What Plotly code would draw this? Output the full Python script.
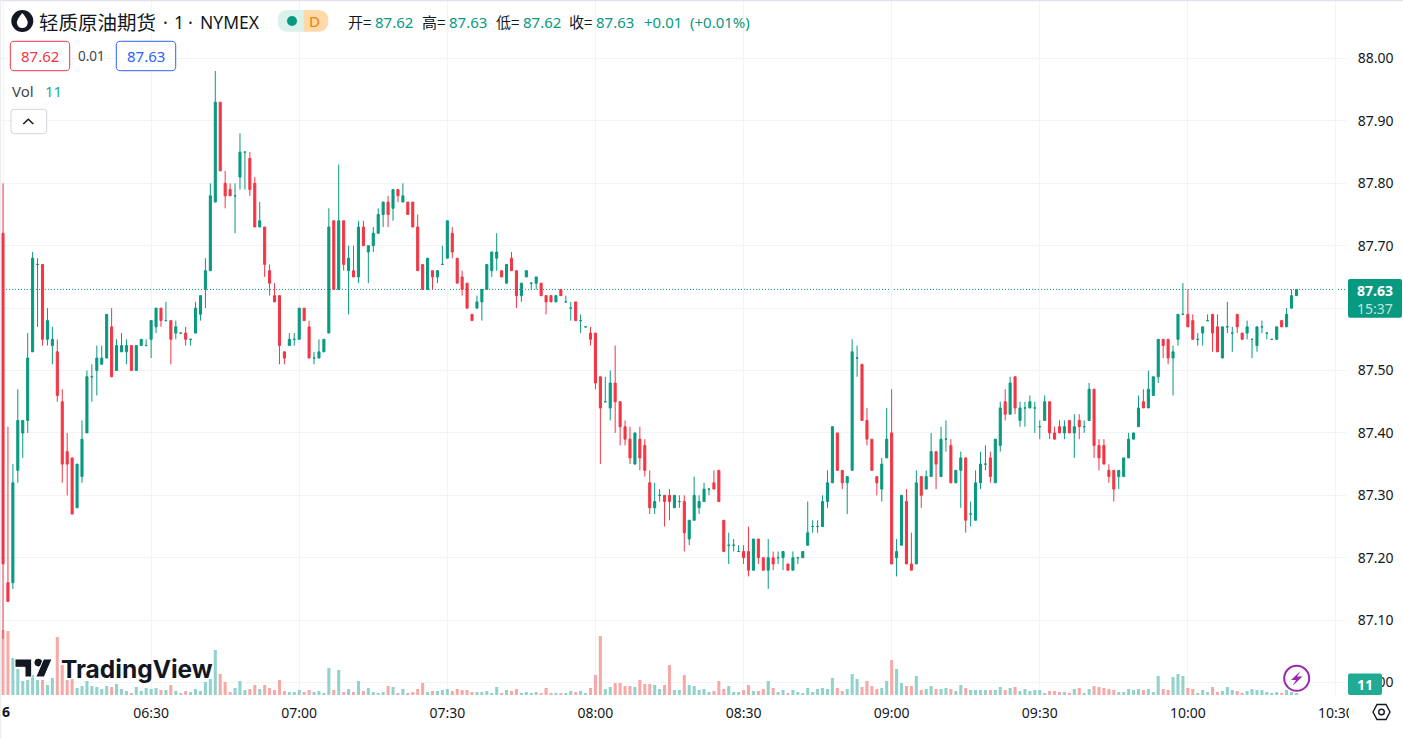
import plotly.graph_objects as go
from datetime import datetime, timedelta
import re

# Prices are hundredths of a dollar above BASE
BASE = 87.0
START = datetime(2024, 3, 26, 6, 0)
open_c = [72,16,16,34,40,42,53,67,67,55, 54,53,45,37,36,28,33,40,49,50,
 51,52,57,50,53,53,54,50,54,54, 55,57,60,58,58,56,56,56,55,56,
 59,63,66,77,93,80,79,78,81,85, 84,80,73,73,66,62,62,53,54,55,
 55,60,57,52,52,53,56,74,63,74, 66,66,65,73,69,70,72,75,77,76,
 79,77,77,77,73,67,63,66,65,67, 68,72,68,65,64,59,60,61,63,66,
 68,66,64,68,66,62,65,64,64,64, 62,62,61,63,61,60,61,58,57,56,
 56,49,45,44,48,45,41,39,35,39, 38,32,28,30,30,30,28,29,29,23,
 26,28,29,31,32,34,26,22,22,21, 21,21,18,23,20,18,20,20,20,19,
 18,20,20,22,25,25,25,29,32,40, 34,32,34,52,51,42,39,33,31,36,
 40,20,22,29,19,19,33,31,33,37, 33,39,38,32,34,36,27,26,32,35,
 36,32,38,45,43,49,42,44,44,44, 41,42,45,40,41,40,42,40,42,41,
 42,47,38,38,34,34,33,33,36,39, 41,45,44,46,49,55,55,52,55,59,
 59,58,55,56,58,59,57,52,57,56, 59,56,56,55,54,57,56,55,55,58,
 57,60,62]
high_c = [80,41,35,47,42,56,69,68,67,60, 57,55,47,40,36,35,42,50,51,54,
 54,59,60,55,56,55,54,54,55,55, 58,60,60,61,58,58,56,57,55,61,
 62,68,80,98,93,82,80,80,88,85, 85,81,77,73,67,64,62,53,56,56,
 60,60,58,53,55,55,76,74,83,74, 70,70,74,74,70,73,76,77,78,79,
 79,80,77,77,75,67,68,66,66,70, 74,73,68,66,64,59,62,63,67,69,
 72,66,67,69,66,64,66,64,65,64, 62,62,62,63,62,61,61,59,57,57,
 56,49,49,50,54,45,42,41,40,41, 39,34,32,31,30,31,30,30,30,26,
 33,30,32,31,34,34,26,24,23,22, 22,25,23,23,20,23,21,21,21,19,
 21,20,21,29,26,26,30,34,41,40, 34,33,55,54,51,44,39,33,36,44,
 47,23,30,31,24,34,33,34,40,37, 41,42,39,34,37,36,29,34,37,38,
 37,39,45,47,49,49,45,45,46,45, 42,46,45,41,42,42,42,43,43,42,
 48,47,39,39,35,34,34,36,40,40, 46,47,50,49,55,55,55,54,59,64,
 63,59,56,57,59,59,59,57,61,57, 59,56,58,55,57,58,56,55,57,58,
 60,63,63]
low_c = [7,13,15,32,36,40,53,57,54,54, 51,45,32,30,27,28,32,40,45,46,
 51,52,49,50,53,51,50,50,54,54, 52,56,57,58,51,55,56,54,54,56,
 58,60,66,77,82,76,78,72,79,79, 78,73,73,65,62,61,51,51,54,54,
 55,58,52,51,52,53,56,63,63,66, 59,65,64,70,64,69,72,73,73,74,
 77,77,75,73,66,63,63,63,64,67, 68,68,64,62,60,58,60,58,63,65,
 66,65,64,66,60,61,65,63,63,62, 59,61,61,62,61,58,58,56,57,54,
 47,35,45,42,40,38,38,35,35,34, 33,27,27,29,25,26,28,28,21,22,
 26,27,29,30,31,29,21,19,21,21, 19,17,18,19,18,15,18,19,18,18,
 18,19,20,22,24,24,25,28,32,34, 31,27,34,49,42,38,34,30,29,36,
 19,17,22,19,18,19,28,31,33,31, 33,37,32,32,28,24,25,26,31,34,
 32,32,37,42,43,43,41,41,44,40, 39,42,39,39,40,39,40,36,39,40,
 42,36,34,35,32,29,31,33,36,39, 41,44,44,46,48,52,51,46,54,59,
 57,55,54,54,58,53,53,52,56,53, 56,55,55,52,53,56,55,55,55,57,
 57,60,62]
close_c = [19,13,32,42,42,52,68,67,55,58, 55,46,35,35,27,35,39,49,49,52,
 52,59,49,54,54,54,50,54,55,54, 58,60,58,58,55,57,56,55,55,60,
 62,66,78,93,82,78,78,78,85,85, 79,73,74,67,64,61,54,52,55,55,
 60,58,52,52,53,55,73,63,74,67, 68,65,73,70,70,72,75,77,75,79,
 78,78,75,73,66,63,68,65,66,67, 74,69,64,63,60,58,61,63,67,69,
 69,65,67,66,62,64,66,64,65,62, 61,61,62,62,61,60,58,58,57,55,
 48,44,45,48,45,41,39,36,40,36, 34,28,29,30,29,29,30,29,24,26,
 30,29,31,31,31,29,21,22,22,21, 20,18,23,20,18,20,19,20,21,18,
 20,20,21,24,25,25,29,32,41,34, 32,33,53,52,42,39,34,32,35,39,
 19,21,30,19,18,32,30,33,37,35, 39,39,32,34,36,26,27,32,35,35,
 33,39,44,43,48,44,44,44,45,44, 41,45,40,39,40,41,40,41,41,41,
 47,38,36,35,33,31,34,36,39,40, 44,44,47,49,55,54,52,53,59,59,
 57,55,55,57,58,56,53,57,57,56, 57,55,57,55,57,57,56,55,57,57,
 59,62,63]
volumes = [390,384,222,156,84,90,120,90,90,60, 102,348,180,90,96,42,54,84,54,48,
 36,54,48,66,36,24,12,48,24,42, 36,42,30,30,60,24,12,24,18,36,
 24,78,96,270,126,78,18,42,84,30, 36,60,36,60,42,30,90,24,18,18,
 30,18,30,18,24,12,162,30,150,18, 36,18,84,24,42,18,12,18,54,48,
 12,36,12,18,36,72,18,24,24,30, 36,24,36,30,30,18,18,18,24,12,
 48,12,30,24,36,12,18,12,18,12, 42,12,12,12,12,24,18,24,12,42,
 120,354,36,48,72,72,54,54,48,90, 66,66,60,36,60,180,30,30,120,60,
 54,30,36,18,24,84,36,54,18,18, 30,60,24,24,36,84,42,18,30,12,
 30,18,12,42,18,36,42,36,102,42, 24,36,126,96,48,84,54,36,42,84,
 210,156,72,54,54,114,30,36,54,36, 36,42,36,24,60,42,30,30,30,30,
 30,30,48,30,42,48,24,36,24,30, 30,12,24,24,18,18,12,36,42,12,
 36,54,48,42,36,30,18,18,36,30, 36,30,36,18,114,36,30,108,126,114,
 42,36,12,30,18,48,18,24,48,30, 24,12,24,36,30,30,18,12,18,12,
 30,18,11]
price_ticks = [87.0,87.1,87.2,87.3,87.4,87.5,87.6,87.7,87.8,87.9,88.0]
price_labels = ["87.00","87.10","87.20","87.30","87.40","87.50","","87.70","87.80","87.90","88.00"]
time_ticks = ["06:00","06:30","07:00","07:30","08:00","08:30","09:00","09:30","10:00","10:30"]
time_labels = ["","06:30","07:00","07:30","08:00","08:30","09:00","09:30","10:00","10:30"]
last_price = 87.63

RED, GREEN = "#f23645", "#089981"
VRED, VGREEN = "#f7a9a7", "#92d2cc"
INK = "#131722"
FONT = "Noto Sans, sans-serif"
CJK = "Noto Sans CJK SC, sans-serif"
W, H, PW, PH = 1403, 739, 1346, 695

times = [START + timedelta(minutes=i) for i in range(len(open_c))]
is_down = [o > c for o, c in zip(open_c, close_c)]

def pick(seq, down):
    return [s for s, d in zip(seq, is_down) if d == down]

def price(seq):
    return [round(BASE + v / 100, 2) for v in seq]

fig = go.Figure()
fig.add_trace(go.Bar(x=times, y=volumes, yaxis="y", hoverinfo="skip", showlegend=False,
                     marker=dict(color=[VRED if d else VGREEN for d in is_down], line_width=0)))
for down, col in ((True, RED), (False, GREEN)):
    fig.add_trace(go.Candlestick(
        x=pick(times, down), open=price(pick(open_c, down)), high=price(pick(high_c, down)),
        low=price(pick(low_c, down)), close=price(pick(close_c, down)),
        yaxis="y2", showlegend=False, hoverinfo="skip", whiskerwidth=0,
        increasing=dict(line=dict(color=col, width=1), fillcolor=col),
        decreasing=dict(line=dict(color=col, width=1), fillcolor=col)))

def P(x, y):
    return x / PW, 1 - y / PH

def poly(pts, **kw):
    d = "M" + " L".join("%.5f,%.5f" % P(*p) for p in pts) + " Z"
    return dict(type="path", xref="paper", yref="paper", path=d, layer="above", **kw)

def rrect(x0, y0, x1, y1, r, fill="rgba(0,0,0,0)", stroke=None, sw=1, corners=(1, 1, 1, 1)):
    tl, tr, br, bl = [r * c for c in corners]
    def f(x, y):
        return "%.5f,%.5f" % P(x, y)
    d = ("M" + f(x0 + tl, y0) + " L" + f(x1 - tr, y0) + " Q" + f(x1, y0) + " " + f(x1, y0 + tr) +
         " L" + f(x1, y1 - br) + " Q" + f(x1, y1) + " " + f(x1 - br, y1) +
         " L" + f(x0 + bl, y1) + " Q" + f(x0, y1) + " " + f(x0, y1 - bl) +
         " L" + f(x0, y0 + tl) + " Q" + f(x0, y0) + " " + f(x0 + tl, y0) + " Z")
    return dict(type="path", xref="paper", yref="paper", path=d, fillcolor=fill, layer="above",
                line=dict(color=stroke or fill, width=sw if stroke else 0))

def circle(cx, cy, r, fill, stroke=None, sw=0):
    x0, y0 = P(cx - r, cy + r)
    x1, y1 = P(cx + r, cy - r)
    return dict(type="circle", xref="paper", yref="paper", x0=x0, x1=x1, y0=y0, y1=y1, layer="above",
                fillcolor=fill, line=dict(color=stroke or fill, width=sw))

def T(x, y, s, size=15, color=INK, anchor="left", font=FONT, **fkw):
    px, py = P(x, y)
    return dict(xref="paper", yref="paper", x=px, y=py, text=s, showarrow=False, xanchor=anchor,
                yanchor="middle", borderpad=0, font=dict(family=font, size=size, color=color, **fkw))

def curve(d, **kw):
    out = re.sub(r"(-?[\d.]+),(-?[\d.]+)", lambda m: "%.5f,%.5f" % P(float(m[1]), float(m[2])), d)
    return dict(type="path", xref="paper", yref="paper", path=out, layer="above", **kw)

shapes = [
    dict(type="line", xref="paper", yref="y2", x0=0, x1=1, y0=last_price, y1=last_price, layer="below",
         line=dict(color=GREEN, width=1, dash="1px,2px")),
    # clips the axis strip next to the price scale
    rrect(1349, 696, 1403, 739.5, 0, fill="#ffffff"),
    # frame edges
    rrect(0, 0, 1403, 1.3, 0, fill="#e0e3eb"),
    rrect(0, 0, 1.2, 739, 0, fill="#eceef2"),
    # symbol icon
    circle(22.3, 21, 11, "#131722"),
    curve("M22.3,13 Q28.5,20 27.6,23.5 Q26.6,28 22.3,28 Q18,28 17,23.5 Q16.2,20 22.3,13 Z",
          fillcolor="#ffffff", line=dict(width=0)),
    # status pill
    rrect(277.7, 10, 303.3, 31.7, 10.8, fill="#daf1ec", corners=(1, 0, 0, 1)),
    rrect(303.3, 10, 328.3, 31.7, 10.8, fill="#ffd9a8", corners=(0, 1, 1, 0)),
    circle(292, 21, 5, GREEN),
    # bid / ask boxes
    rrect(10.3, 41.3, 69.7, 70.7, 4, fill="#ffffff", stroke=RED),
    rrect(116.3, 41.3, 175.7, 70.7, 4, fill="#ffffff", stroke="#2962ff"),
    # collapse button
    rrect(11, 109.3, 46.7, 133.7, 3, fill="#ffffff", stroke="#d1d4dc"),
    curve("M23.3,124 L28.3,119.3 L33.3,124", line=dict(color=INK, width=1.5)),
    # tradingview logo mark
    curve("M15,659 L31.7,659 L31.7,677 L25,677 L25,667.3 L15,667.3 Z", fillcolor=INK, line=dict(color="#ffffff", width=1)),
    circle(38.3, 662.6, 3.8, INK),
    poly([(43.5, 659), (52, 659), (44.3, 677), (35.8, 677)], fillcolor=INK, line=dict(color="#ffffff", width=1)),
    # last price tag, volume tag
    rrect(1348, 279, 1402, 317.7, 2, fill=GREEN),
    rrect(1348, 673.5, 1382, 695, 2, fill="#22ab94"),
    # lightning badge
    circle(1296.7, 678.3, 12.5, "#ffffff", "#9c27b0", 2),
    poly([(1300.5, 671), (1291, 680), (1296, 680), (1292.5, 686), (1302.5, 676.5), (1297, 676.5)],
         fillcolor="#9c27b0", line=dict(width=0)),
    # chart settings hexagon
    poly([(1373, 712), (1377, 704.5), (1386, 704.5), (1390, 712), (1386, 719.5), (1377, 719.5)],
         fillcolor="#ffffff", line=dict(color=INK, width=1.4)),
    circle(1381.5, 712, 2.8, "#ffffff", INK, 1.4),
]

ann = [
    T(38, 21.5, "轻质原油期货", size=19.5, font=CJK),
    T(165.7, 21.5, "·", size=18, anchor="center"),
    T(179, 21.5, "1", size=17.5, anchor="center"),
    T(190.7, 21.5, "·", size=18, anchor="center"),
    T(199, 21.5, "NYMEX", size=17.5),
    T(314.5, 21, "D", size=15, color="#f57c00", anchor="center"),
    T(347, 22, "开=", size=15, font=CJK), T(373.5, 22, "87.62", color=GREEN),
    T(421, 22, "高=", size=15, font=CJK), T(447.5, 22, "87.63", color=GREEN),
    T(495, 22, "低=", size=15, font=CJK), T(521.5, 22, "87.62", color=GREEN),
    T(568, 22, "收=", size=15, font=CJK), T(594.5, 22, "87.63", color=GREEN),
    T(642.5, 22, "+0.01", color=GREEN), T(689, 22, "(+0.01%)", color=GREEN),
    T(40, 56, "87.62", color=RED, anchor="center"),
    T(92, 55.5, "0.01", size=13.5, color="#434651", anchor="center"),
    T(146, 56, "87.63", color="#2962ff", anchor="center"),
    T(10.5, 91, "Vol", size=15, color="#434651"),
    T(43.5, 91, "11", size=15, color="#22ab94"),
    T(60, 668.5, "<b>TradingView</b>", size=24.5, font="Inter, sans-serif",
      shadow="0 0 2px #fff, 0 0 2px #fff, 0 0 3px #fff"),
    T(1375, 290, "<b>87.63</b>", size=14, color="#ffffff", anchor="center"),
    T(1375, 308, "15:37", size=14, color="rgba(255,255,255,0.75)", anchor="center"),
    T(1365, 684, "<b>11</b>", size=14, color="#ffffff", anchor="center"),
    T(6, 712, "<b>6</b>", size=14, anchor="center"),
]

tvals = [f"2024-03-26 {t}" for t in time_ticks]
fig.update_layout(
    width=W, height=H, autosize=False,
    margin=dict(l=0, r=W - PW, t=0, b=H - PH, pad=0),
    paper_bgcolor="#ffffff", plot_bgcolor="#ffffff",
    bargap=0.38, boxgap=0.4, boxmode="overlay", dragmode=False,
    font=dict(family=FONT, size=14, color=INK),
    xaxis=dict(type="date", range=["2024-03-26 05:59:23.5", "2024-03-26 10:32:02"],
               tickvals=tvals, ticktext=time_labels, showgrid=True, gridcolor="#f2f3f6", gridwidth=1,
               ticks="outside", ticklen=5, tickcolor="#ffffff", zeroline=False, showline=False,
               rangeslider=dict(visible=False), tickfont=dict(size=14, color=INK)),
    yaxis=dict(range=[0, 4170], visible=False, showgrid=False, fixedrange=True),
    yaxis2=dict(overlaying="y", side="right", range=[86.9800, 88.0938], tickvals=price_ticks,
                ticktext=price_labels, showgrid=True, gridcolor="#f2f3f6", gridwidth=1, zeroline=False,
                showline=False, ticks="outside", ticklen=8, tickcolor="#ffffff",
                tickfont=dict(size=14, color=INK), fixedrange=True),
    shapes=shapes, annotations=ann,
)
fig.write_html("out.html", config=dict(displayModeBar=False),
               post_script="document.body.style.margin='0';document.body.style.overflow='hidden';")
